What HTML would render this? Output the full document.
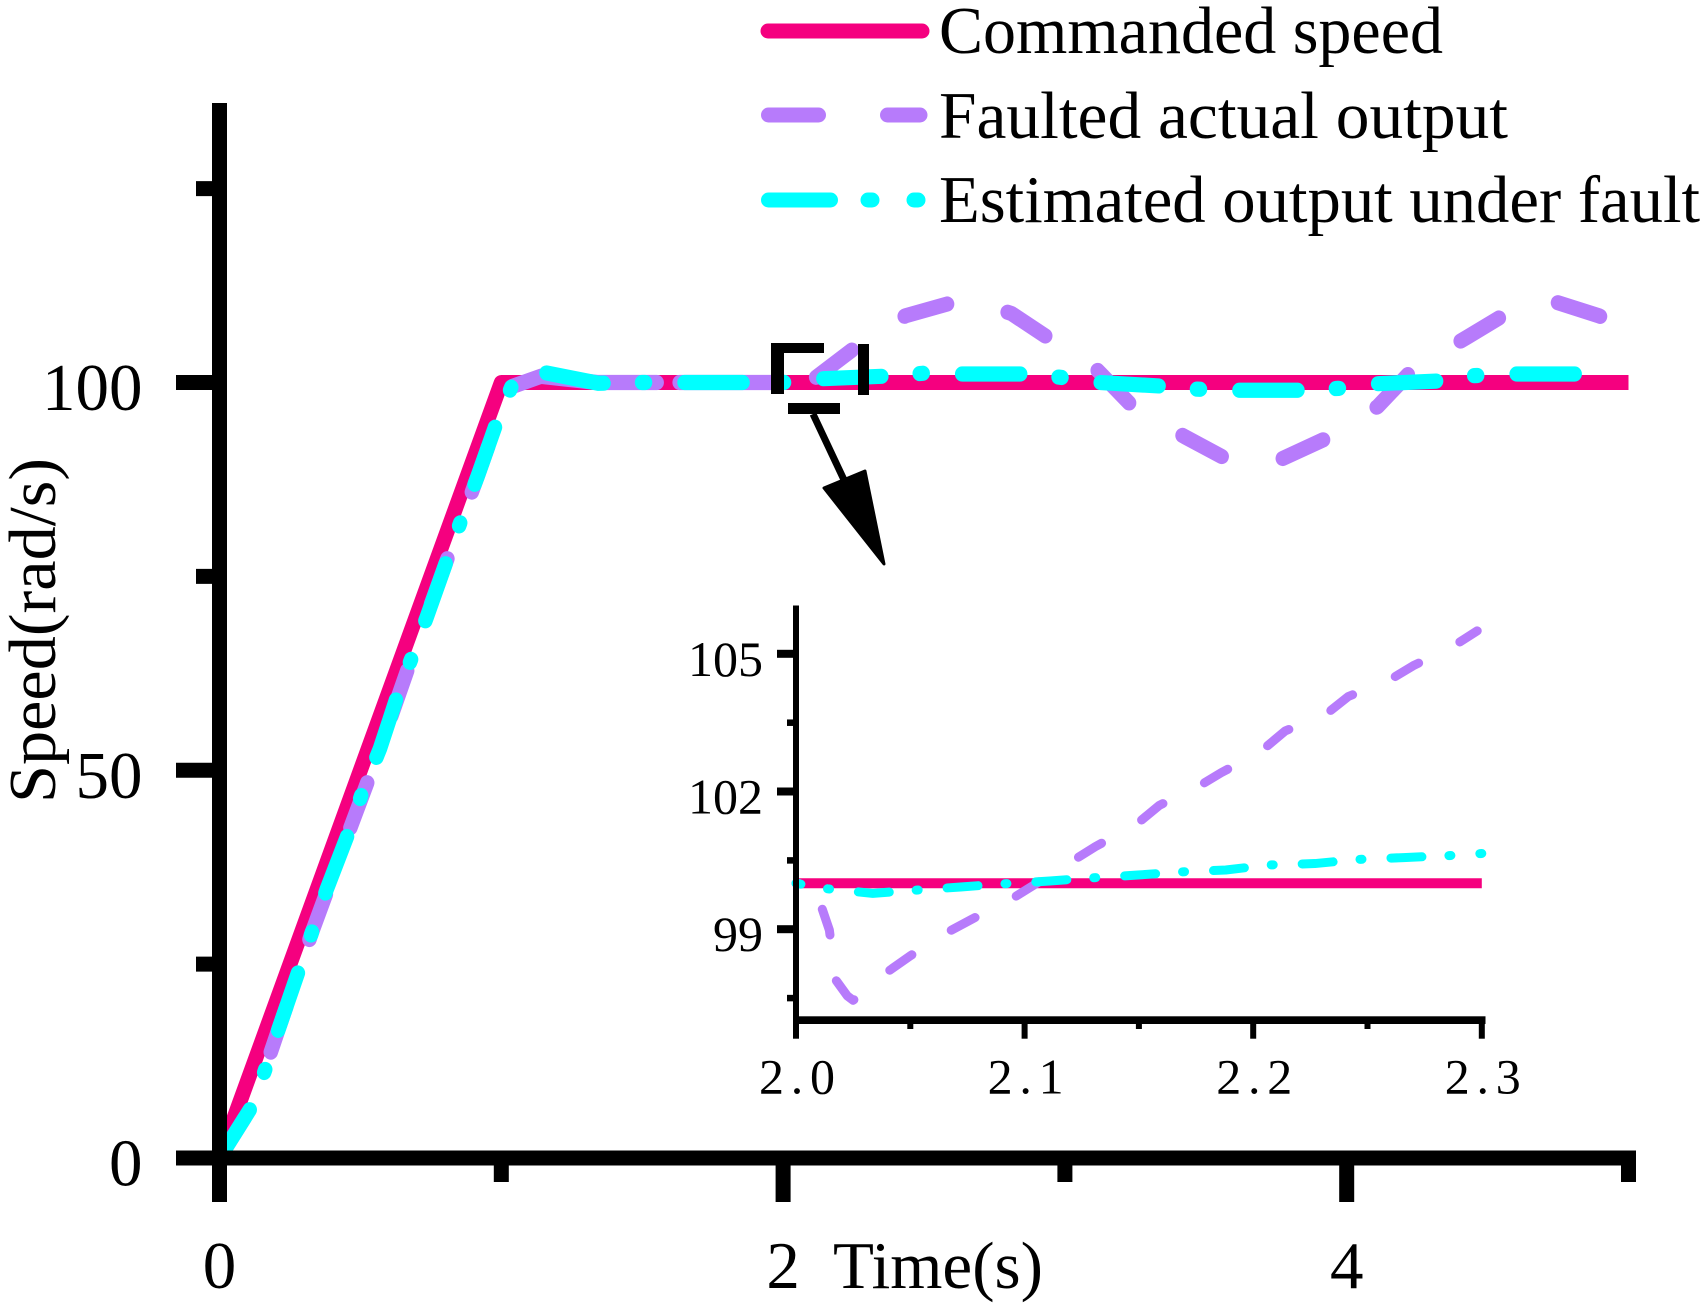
<!DOCTYPE html>
<html>
<head>
<meta charset="utf-8">
<title>Speed chart</title>
<style>
html,body{margin:0;padding:0;background:#fff;width:1707px;height:1307px;overflow:hidden}
svg{display:block}
text{font-family:"Liberation Serif","Times New Roman",serif;fill:#000}
</style>
</head>
<body>
<svg id="chart" xmlns="http://www.w3.org/2000/svg" width="1707" height="1307" viewBox="0 0 1707 1307">
  <rect x="0" y="0" width="1707" height="1307" fill="#fff"/>
  <g id="main-series"></g>
  <g id="main-axes"></g>
  <g id="inset-series"></g>
  <g id="inset-axes"></g>

  <text font-size="67" transform="translate(55 803) rotate(-90)" textLength="345" lengthAdjust="spacingAndGlyphs">Speed(rad/s)</text>
  <text font-size="67" x="833" y="1288" textLength="210" lengthAdjust="spacingAndGlyphs">Time(s)</text>

  <g fill="#000">
    <rect x="771" y="343" width="53" height="10"/>
    <rect x="771" y="343" width="13" height="51"/>
    <rect x="858" y="344" width="11" height="51"/>
    <rect x="788" y="403" width="52" height="11"/>
  </g>
  <line x1="813" y1="414" x2="845" y2="482" stroke="#000" stroke-width="7"/>
  <polygon points="824,488 865,471 884,564" fill="#000" stroke="#000" stroke-width="3" stroke-linejoin="round"/>

  <g>
    <g>
      <line x1="768" y1="31" x2="922" y2="31" stroke="#f5007f" stroke-width="15" stroke-linecap="round"/>
      <text font-size="67" x="939" y="53" textLength="504" lengthAdjust="spacingAndGlyphs">Commanded speed</text>
    </g>
    <g>
      <line x1="768.5" y1="115" x2="920" y2="115" stroke="#b77bfb" stroke-width="15" stroke-linecap="round" stroke-dasharray="50 69 40 100"/>
      <text font-size="67" x="939" y="138" textLength="569" lengthAdjust="spacingAndGlyphs">Faulted actual output</text>
    </g>
    <g>
      <line x1="768.5" y1="200" x2="920" y2="200" stroke="#00ffff" stroke-width="15" stroke-linecap="round" stroke-dasharray="62 37.5 4 42 4 100"/>
      <text font-size="67" x="939" y="222" textLength="761" lengthAdjust="spacingAndGlyphs">Estimated output under fault</text>
    </g>
  </g>
</svg>
<script>
// ---------- main chart data ----------
var mainCommandedT = [0, 1, 5];
var mainCommandedV = [0, 100, 100];
var mainFaultedT = [0, 0.119, 0.2076, 0.328, 0.4595, 0.5696, 0.682, 0.812, 0.917, 1.0, 1.04, 1.14, 1.34, 1.98, 2.1, 2.252, 2.434, 2.6, 2.7, 2.81, 2.947, 3.107, 3.243, 3.426, 3.562, 3.66, 3.767, 3.916, 4.11, 4.235, 4.43, 4.576, 4.7, 4.748, 4.895, 4.93];
var mainFaultedV = [0, 6.9, 16.4, 29.1, 42.1, 52.8, 64.5, 77.6, 88, 96.5, 99.5, 100.8, 100, 100, 100.2, 104.4, 108.6, 110.3, 110.2, 108.9, 105.6, 101.9, 96.8, 93, 90.35, 89.7, 90.1, 92.6, 96.9, 101.7, 105.9, 109.1, 110.4, 110.3, 108.6, 108];
var mainEstimatedT = [0, 0.119, 0.164, 0.2076, 0.2786, 0.328, 0.38, 0.4595, 0.509, 0.5696, 0.632, 0.682, 0.735, 0.812, 0.863, 0.917, 0.988, 1.039, 1.137, 1.344, 1.485, 2.0, 2.115, 2.378, 2.5, 2.63, 2.88, 3.0, 3.095, 3.36, 3.46, 3.6, 3.86, 3.97, 4.1, 4.33, 4.44, 4.565, 4.84, 4.945];
var mainEstimatedV = [0, 6.9, 11.6, 16.4, 23.9, 29.1, 34.6, 42.1, 47.4, 52.8, 59.7, 64.5, 69.7, 77.6, 82.8, 88, 95.3, 99.7, 101.4, 99.9, 100, 100, 100.45, 100.84, 101.2, 101.1, 101.1, 100.6, 100.06, 99.5, 99.15, 99, 99, 99.24, 99.83, 100.2, 100.86, 101.1, 101.1, 101];
var mainYTicks = [0, 25, 50, 75, 100, 125];
var mainYLabels = ["0", "", "50", "", "100", ""];
var mainXTicks = [0, 1, 2, 3, 4, 5];
var mainXLabels = ["0", "", "2", "", "4", ""];

// ---------- inset data ----------
var insetCommandedT = [2.0, 2.3];
var insetCommandedV = [100, 100];
var insetFaultedT = [2.0, 2.01, 2.0114, 2.0146, 2.0173, 2.0224, 2.025, 2.04, 2.05, 2.065, 2.077, 2.095, 2.131, 2.149, 2.159, 2.1757, 2.186, 2.203, 2.214, 2.231, 2.2416, 2.26, 2.27, 2.287, 2.298];
var insetFaultedV = [100, 100, 99.45, 98.98, 97.9, 97.55, 97.45, 98.07, 98.42, 98.9, 99.22, 99.68, 100.8, 101.29, 101.7, 102.1, 102.41, 102.86, 103.32, 103.65, 104.07, 104.44, 104.74, 105.15, 105.5];
var insetEstimatedT = [2.0, 2.0138, 2.0336, 2.0523, 2.072, 2.091, 2.111, 2.13, 2.1495, 2.169, 2.188, 2.207, 2.227, 2.2456, 2.2657, 2.2845, 2.3];
var insetEstimatedV = [100, 99.88, 99.78, 99.85, 99.92, 99.99, 100.05, 100.12, 100.18, 100.25, 100.29, 100.4, 100.43, 100.52, 100.56, 100.6, 100.65];
var insetYTicks = [97.5, 99, 100.5, 102, 103.5, 105];
var insetYLabels = ["", "99", "", "102", "", "105"];
var insetXTicks = [2.0, 2.05, 2.1, 2.15, 2.2, 2.25, 2.3];
var insetXLabels = ["2.0", "", "2.1", "", "2.2", "", "2.3"];

// ---------- axis functions ----------
function mainX(t) { return 219.5 + t * 281.8; }
function mainY(v) { return 1158 - v * 7.755; }
function insetX(t) { return 796 + (t - 2) * 2286; }
function insetY(v) { return 929.2 - (v - 99) * 45.9; }
var STRETCH = 1.05;

var NS = 'http://www.w3.org/2000/svg';
function mk(tag, parent, attrs) {
  var el = document.createElementNS(NS, tag);
  for (var k in attrs) el.setAttribute(k, attrs[k]);
  parent.appendChild(el);
  return el;
}
function pts(ts, vs, fx, fy, tMin, tMax) {
  var d = '';
  for (var i = 0; i < ts.length; i++) {
    if (tMin !== undefined && (ts[i] < tMin || ts[i] > tMax)) continue;
    d += (d ? 'L' : 'M') + fx(ts[i]).toFixed(2) + ' ' + fy(vs[i]).toFixed(2);
  }
  return d;
}

// ---------- main series ----------
var ms = document.getElementById('main-series');
var mainCmd = mk('path', ms, {d: pts(mainCommandedT, mainCommandedV, mainX, mainY), fill: 'none', stroke: '#f5007f', 'stroke-width': 15, 'stroke-linejoin': 'round'});



var stretched = mk('g', ms, {transform: 'scale(1 ' + STRETCH + ')'});


function stretchedY(v) { return mainY(v) / STRETCH; }

var faultStyle = {fill: 'none', stroke: '#b77bfb', 'stroke-width': 14.5, 'stroke-linecap': 'round', 'stroke-linejoin': 'round'};
function faultAttrs(d, dash) {
  var a = {d: d, 'stroke-dasharray': dash};
  for (var k in faultStyle) a[k] = faultStyle[k];
  return a;
}
var mainFaultRamp = mk('path', stretched, faultAttrs(pts(mainFaultedT, mainFaultedV, mainX, stretchedY, 0, 1.04), '46 68'));


var mainFaultFlat = mk('path', stretched, faultAttrs(pts(mainFaultedT, mainFaultedV, mainX, stretchedY, 1.04, 1.98), '146 23 400'));


var mainFaultOsc = mk('path', stretched, faultAttrs(pts(mainFaultedT, mainFaultedV, mainX, stretchedY, 2.1, 5), '44 62'));
mainFaultOsc.setAttribute('stroke-dashoffset', '-6');



var mainEst = mk('path', stretched, {d: pts(mainEstimatedT, mainEstimatedV, mainX, stretchedY), fill: 'none', stroke: '#00ffff', 'stroke-width': 14.5, 'stroke-linecap': 'round', 'stroke-linejoin': 'round', 'stroke-dasharray': '58 38.5 3 39.5', 'stroke-dashoffset': '3'});



// ---------- main axes ----------
var ma = document.getElementById('main-axes');
var mainYAxis = mk('rect', ma, {x: 212, y: 103, width: 15, height: 1099, fill: '#000'});


var mainXAxis = mk('rect', ma, {x: 176, y: 1150.5, width: 1460, height: 15, fill: '#000'});



mainYTicks.forEach(function (v, i) {
  var major = mainYLabels[i] !== '';
  var left = major ? 176 : 196;
  var tick = mk('rect', ma, {x: left, y: mainY(v) - 7.5, width: 212 - left, height: 15, fill: '#000'});
  
  
  if (major) {
    var lab = mk('text', ma, {x: 142.5, y: mainY(v) + 27.5, 'font-size': 67, 'text-anchor': 'end'});
    lab.textContent = mainYLabels[i];
    
    
  }
});
mainXTicks.forEach(function (t, i) {
  var major = mainXLabels[i] !== '';
  var tick = mk('rect', ma, {x: mainX(t) - 7.5, y: 1160, width: 15, height: (major ? 1202 : 1182) - 1160, fill: '#000'});
  
  
  if (major) {
    var lab = mk('text', ma, {x: mainX(t), y: 1288, 'font-size': 67, 'text-anchor': 'middle'});
    lab.textContent = mainXLabels[i];
    
    
  }
});

// ---------- inset series ----------
var is = document.getElementById('inset-series');
var insetCmd = mk('path', is, {d: pts(insetCommandedT, insetCommandedV, insetX, insetY), fill: 'none', stroke: '#f5007f', 'stroke-width': 10});


var insetFault = mk('path', is, {d: pts(insetFaultedT, insetFaultedV, insetX, insetY), fill: 'none', stroke: '#b77bfb', 'stroke-width': 9, 'stroke-linecap': 'round', 'stroke-linejoin': 'round', 'stroke-dasharray': '27 46.4', 'stroke-dashoffset': '24.4'});


var insetEst = mk('path', is, {d: pts(insetEstimatedT, insetEstimatedV, insetX, insetY), fill: 'none', stroke: '#00ffff', 'stroke-width': 9, 'stroke-linecap': 'round', 'stroke-linejoin': 'round', 'stroke-dasharray': '31 27 2 29', 'stroke-dashoffset': '26'});



// ---------- inset axes ----------
var ia = document.getElementById('inset-axes');
var insetYAxis = mk('rect', ia, {x: 793, y: 605.5, width: 6, height: 433, fill: '#000'});


var insetXAxis = mk('rect', ia, {x: 793, y: 1016.3, width: 692.5, height: 7.7, fill: '#000'});



insetYTicks.forEach(function (v, i) {
  var major = insetYLabels[i] !== '';
  var left = major ? 777 : 787;
  var tick = mk('rect', ia, {x: left, y: insetY(v) - (major ? 4 : 3.2), width: 793 - left, height: major ? 8 : 6.5, fill: '#000'});
  
  
  if (major) {
    var lab = mk('text', ia, {x: 763, y: insetY(v) + 22, 'font-size': 50, 'text-anchor': 'end'});
    lab.textContent = insetYLabels[i];
    
    
  }
});
insetXTicks.forEach(function (t, i) {
  var major = insetXLabels[i] !== '';
  var tick = mk('rect', ia, {x: insetX(t) - 3, y: 1022, width: 6, height: (major ? 1038.7 : 1029) - 1022, fill: '#000'});
  
  
  if (major) {
    var lab = mk('text', ia, {x: insetX(t) - 37, y: 1093.4, 'font-size': 50, textLength: 76, lengthAdjust: 'spacing'});
    lab.textContent = insetXLabels[i];
    
    
  }
});
</script>
</body>
</html>
